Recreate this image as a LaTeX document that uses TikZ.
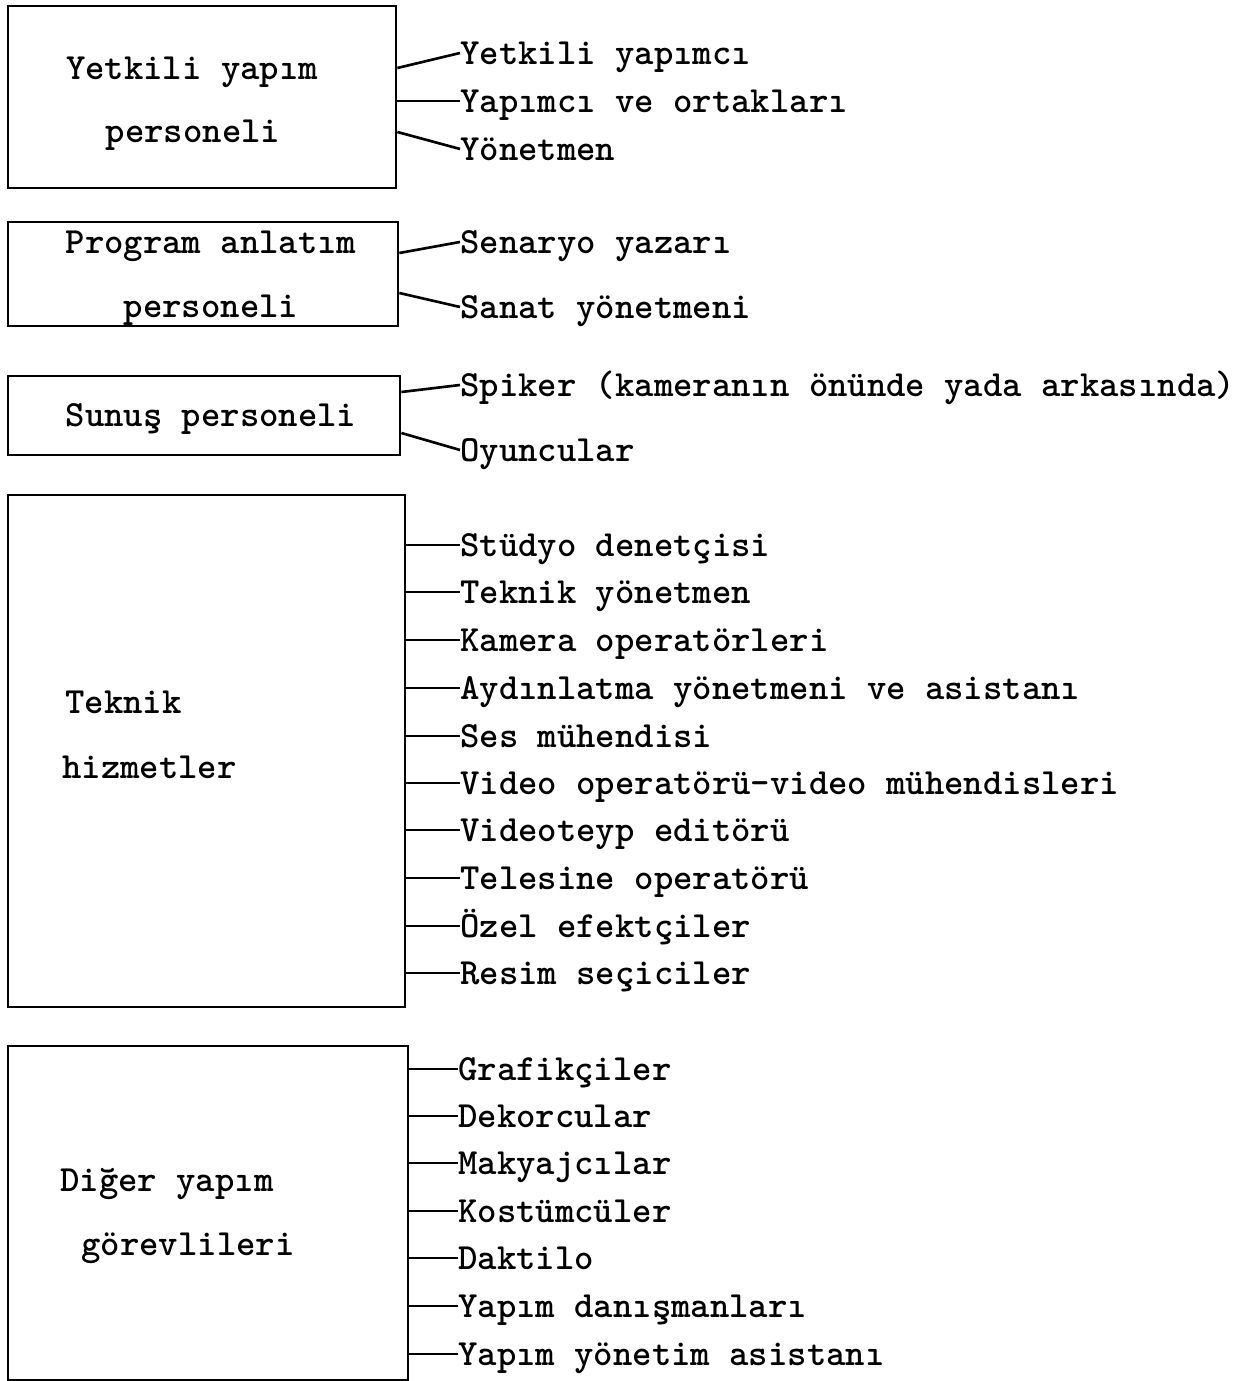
\documentclass[tikz,border=0pt]{standalone}
\usepackage{fontspec}
\usetikzlibrary{positioning}
\usetikzlibrary{calc}
\tikzstyle{group}=[draw,line width=1.6pt,inner sep=0pt]
\tikzstyle{grouptext}=[font=\ttfamily\bfseries\fontsize{21}{25}\selectfont,inner sep=0pt,text height=14pt,text depth=1pt]
\tikzstyle{item}=[grouptext,anchor=west]
\tikzstyle{link} = [draw,line width=1.5pt]

\begin{document}
\begin{tikzpicture}[x=0.02cm,y=-0.02cm]
  \useasboundingbox (0,0) rectangle (1250,1381);

  % groups (boxes)
  \foreach \pos/\name/\w/\h in {{(202,97)/yetkili/7.76/3.64}, {(203,274)/program/7.8/2.08}, {(204,415.5)/sunus/7.84/1.58}, {(206.5,751)/teknik/7.94/10.24}, {(208,1213)/diger/8.0/6.68}}
        \node[group,minimum width=\w cm,minimum height=\h cm] (\name) at \pos {};

  % texts inside the boxes
  \node[grouptext] at (192,68) {Yetkili yapım};
  \node[grouptext] at (193,131) {personeli};
  \node[grouptext] at (211,242) {Program anlatım};
  \node[grouptext] at (211,306) {personeli};
  \node[grouptext] at (211,415) {Sunuş personeli};
  \node[grouptext,anchor=west] at (65,702) {Teknik};
  \node[grouptext,anchor=west] at (62,767) {hizmetler};
  \node[grouptext,anchor=west] at (60,1180) {Diğer yapım};
  \node[grouptext] at (188,1244) {görevlileri};

  % first three groups: slanted links
  \foreach \y/\name/\label/\grp/\dy in {53/y1/Yetkili yapımcı/yetkili/-29, 149/y3/Yönetmen/yetkili/35,
        242/p1/Senaryo yazarı/program/-21, 307/p2/Sanat yönetmeni/program/19,
        385/s1/Spiker (kameranın önünde yada arkasında)/sunus/-23.5, 450/s2/Oyuncular/sunus/17.5}
  {
        \node[item] (\name) at (460,\y) {\label};
        \path[link] ($(\grp.east)+(0,\dy)$) -- (\name.west);
  }
  \node[item] (y2) at (460,101) {Yapımcı ve ortakları};
  \path[link] (yetkili.east |- y2.west) -- (y2.west);

  % technical services
  \foreach \y/\name/\label in {545/t1/Stüdyo denetçisi, 592/t2/Teknik yönetmen, 640/t3/Kamera operatörleri,
        688/t4/Aydınlatma yönetmeni ve asistanı, 736/t5/Ses mühendisi, 783/t6/Video operatörü-video mühendisleri,
        830/t7/Videoteyp editörü, 878/t8/Telesine operatörü, 926/t9/Özel efektçiler, 973/t10/Resim seçiciler}
  {
        \node[item] (\name) at (460,\y) {\label};
        \path[link] (teknik.east |- \name.west) -- (\name.west);
  }

  % other production staff
  \foreach \y/\name/\label in {1069/d1/Grafikçiler, 1116/d2/Dekorcular, 1163/d3/Makyajcılar, 1211/d4/Kostümcüler,
        1258/d5/Daktilo, 1306/d6/Yapım danışmanları, 1354/d7/Yapım yönetim asistanı}
  {
        \node[item] (\name) at (458,\y) {\label};
        \path[link] (diger.east |- \name.west) -- (\name.west);
  }

\end{tikzpicture}
\end{document}
